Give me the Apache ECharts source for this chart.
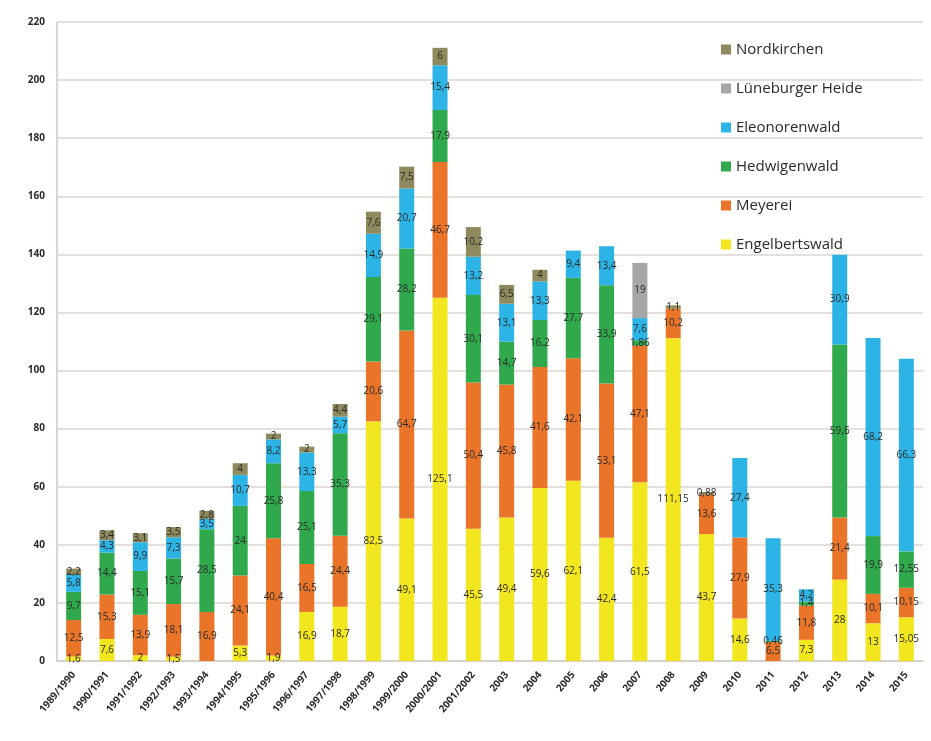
<!DOCTYPE html>
<html><head><meta charset="utf-8">
<script src="https://cdn.jsdelivr.net/npm/echarts@6/dist/echarts.min.js"></script>
<style>html,body{margin:0;padding:0;background:#fff}#c{width:931px;height:741px}</style>
</head><body><div id="c"></div>
<script>
var categories = ['1989/1990','1990/1991','1991/1992','1992/1993','1993/1994','1994/1995','1995/1996','1996/1997','1997/1998','1998/1999','1999/2000','2000/2001','2001/2002','2003','2004','2005','2006','2007','2008','2009','2010','2011','2012','2013','2014','2015'];
var engelbertswald = [1.6, 7.6, 2, 1.5, null, 5.3, 1.9, 16.9, 18.7, 82.5, 49.1, 125.1, 45.5, 49.4, 59.6, 62.1, 42.4, 61.5, 111.15, 43.7, 14.6, null, 7.3, 28, 13, 15.05];
var meyerei = [12.5, 15.3, 13.9, 18.1, 16.9, 24.1, 40.4, 16.5, 24.4, 20.6, 64.7, 46.7, 50.4, 45.8, 41.6, 42.1, 53.1, 47.1, 10.2, 13.6, 27.9, 6.5, 11.8, 21.4, 10.1, 10.15];
var hedwigenwald = [9.7, 14.4, 15.1, 15.7, 28.5, 24, 25.8, 25.1, 35.3, 29.1, 28.2, 17.9, 30.1, 14.7, 16.2, 27.7, 33.9, 1.86, null, null, null, 0.46, 1.4, 59.6, 19.9, 12.55];
var eleonorenwald = [5.8, 4.3, 9.9, 7.3, 3.5, 10.7, 8.2, 13.3, 5.7, 14.9, 20.7, 15.4, 13.2, 13.1, 13.3, 9.4, 13.4, 7.6, null, null, 27.4, 35.3, 4.2, 30.9, 68.2, 66.3];
var lueneburgerHeide = [null, null, null, null, null, null, null, null, null, null, null, null, null, null, null, null, null, 19, null, null, null, null, null, null, null, null];
var nordkirchen = [2.2, 3.4, 3.1, 3.5, 2.8, 4, 2, 2, 4.4, 7.6, 7.5, 6, 10.2, 6.5, 4, null, null, null, 1.1, 0.88, null, null, null, null, null, null];
var yTicks = [0, 20, 40, 60, 80, 100, 120, 140, 160, 180, 200, 220];

var seriesDefs = [
  ['Engelbertswald', engelbertswald, '#f2e61e'],
  ['Meyerei', meyerei, '#ea7427'],
  ['Hedwigenwald', hedwigenwald, '#30a94c'],
  ['Eleonorenwald', eleonorenwald, '#2db4e6'],
  ['Lüneburger Heide', lueneburgerHeide, '#a6a6a6'],
  ['Nordkirchen', nordkirchen, '#8f8a5e']
];
var chart = echarts.init(document.getElementById('c'));
chart.setOption({
  animation: false,
  backgroundColor: '#fff',
  grid: {left: 57, right: 8, top: 22, bottom: 80},
  legend: {
    orient: 'vertical', left: 716, top: 37, itemGap: 24, itemWidth: 10, itemHeight: 10,
    icon: 'rect',
    data: ['Nordkirchen','Lüneburger Heide','Eleonorenwald','Hedwigenwald','Meyerei','Engelbertswald'],
    textStyle: {fontFamily: 'Open Sans', fontSize: 15, color: '#2a2a2a'}
  },
  xAxis: {
    type: 'category', data: categories,
    axisLine: {lineStyle: {color: '#d0cac4', width: 1.5}},
    axisTick: {show: false},
    axisLabel: {rotate: 50, interval: 0, fontSize: 10, fontWeight: 'bold', color: '#2a2a2a', fontFamily: 'Open Sans', margin: 12}
  },
  yAxis: {
    type: 'value', min: yTicks[0], max: yTicks[yTicks.length-1], interval: 20,
    axisLine: {show: true, lineStyle: {color: '#d0cac4', width: 1.5}},
    axisTick: {show: false},
    splitLine: {lineStyle: {color: '#ddd6d0', width: 1.5}},
    axisLabel: {fontSize: 10, fontWeight: 'bold', color: '#2a2a2a', fontFamily: 'Open Sans', margin: 12}
  },
  series: seriesDefs.map(function(d){
    return {
      name: d[0], type: 'bar', stack: 'total', data: d[1], barWidth: 15,
      itemStyle: {color: d[2]},
      label: {
        show: true, position: 'inside', fontSize: 10, color: '#2a2a2a', fontFamily: 'Open Sans',
        formatter: function(p){ return p.value == null ? '' : String(p.value).replace('.', ','); }
      }
    };
  })
});
</script></body></html>
